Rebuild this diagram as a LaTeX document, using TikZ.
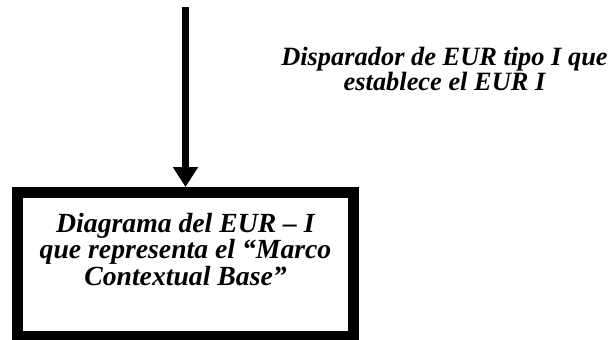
\documentclass[tikz,border=0pt]{standalone}
\usepackage{fontspec}
\setmainfont{Liberation Serif}
\usetikzlibrary{arrows.meta}

\begin{document}
\begin{tikzpicture}[
    x=1pt, y=-1pt,
    eurbox/.style={draw, line width=11pt, minimum width=336pt, minimum height=143.5pt, inner sep=0pt, align=center, text height=68pt, text depth=26.5pt, font=\fontsize{27.7}{24.5}\selectfont\bfseries\itshape},
    trigger/.style={-{Triangle[length=20pt, width=24pt]}, line width=7.6pt},
    label/.style={align=center, inner sep=0pt, font=\fontsize{26.4}{25}\selectfont\bfseries\itshape}
  ]
    \useasboundingbox (0,0) rectangle (616,340);

    % Box
    \node[eurbox] (eur) at (185.5,264.25) {Diagrama del EUR – I\\que representa el “Marco\\Contextual Base”};

    % Trigger arrow
    \coordinate (src) at (185.5,7);
    \draw[trigger] (src) -- (eur.north);

    % Label
    \node[label] (trig) at (444.5,68.5) {Disparador de EUR tipo I que\\establece el EUR I};
  \end{tikzpicture}
\end{document}
